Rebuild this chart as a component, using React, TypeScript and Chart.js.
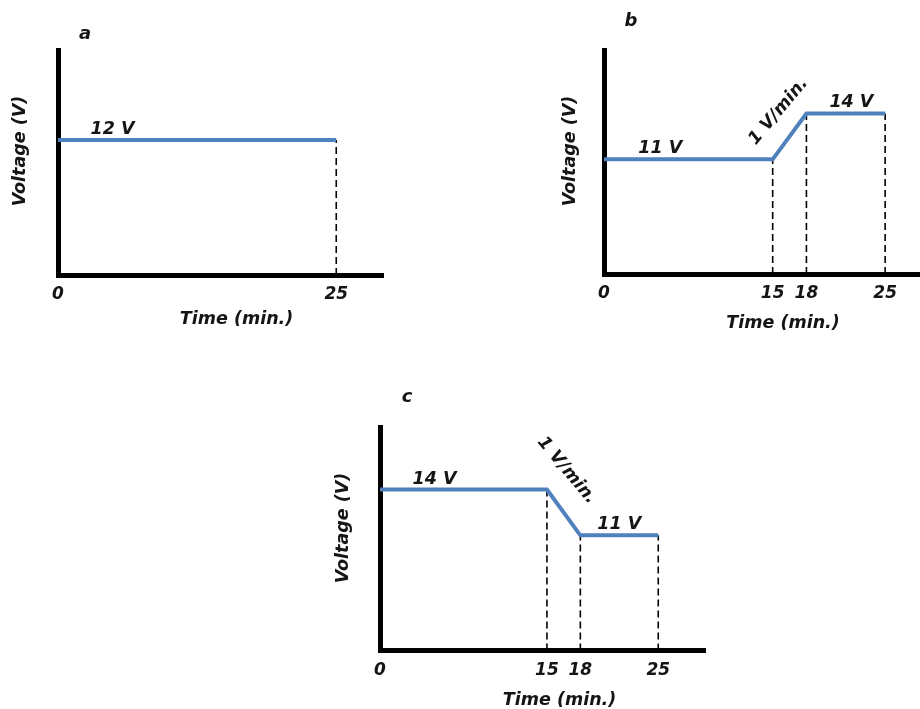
import React, { useEffect, useRef } from "react";
import { Chart, registerables } from "chart.js";

Chart.register(...registerables);

const FONT = "'DejaVu Sans', 'Open Sans', sans-serif";
const LINE_BLUE = "#4F81BD";
const TEXT = "#151515";

// ---- Panel a : constant voltage ----
const timeA = [0, 25];
const voltA = [12, 12];
const ticksA = [0, 25];

// ---- Panel b : step up with ramp ----
const timeB = [0, 15, 18, 25];
const voltB = [11, 11, 14, 14];
const ticksB = [0, 15, 18, 25];

// ---- Panel c : step down with ramp ----
const timeC = [0, 15, 18, 25];
const voltC = [14, 14, 11, 11];
const ticksC = [0, 15, 18, 25];

// plateau label positions (minutes along the time axis)
const labelTimesA = [4.9];
const labelTimesB = [5.0, 22.0];
const labelTimesC = [4.9, 21.5];

const xTitle = "Time (min.)";
const yTitle = "Voltage (V)";

type PanelCfg = {
  letter: string;
  time: number[];
  volt: number[];
  ticks: number[];
  labelTimes: number[];
  box: { left: number; top: number; width: number; height: number };
  padding: { left: number; right: number; top: number; bottom: number };
  xMax: number;
  yMin: number;
  yMax: number;
  letterOff: [number, number];
  xTitleOff: [number, number];
  yTitleOff: [number, number];
  rampOff: [number, number];
  rampRot: number;
};

const panels: PanelCfg[] = [
  {
    letter: "a",
    time: timeA,
    volt: voltA,
    ticks: ticksA,
    labelTimes: labelTimesA,
    box: { left: 0, top: 0, width: 400, height: 340 },
    padding: { left: 58, right: 17, top: 50, bottom: 25.6 },
    xMax: 29.2,
    yMin: 3,
    yMax: 18,
    letterOff: [27, -16],
    xTitleOff: [16, 49],
    yTitleOff: [-37.5, 101],
    rampOff: [0, 0],
    rampRot: 0,
  },
  {
    letter: "b",
    time: timeB,
    volt: voltB,
    ticks: ticksB,
    labelTimes: labelTimesB,
    box: { left: 540, top: 0, width: 380, height: 340 },
    padding: { left: 64, right: 0, top: 50, bottom: 26.6 },
    xMax: 28.1,
    yMin: 3.5,
    yMax: 18.15,
    letterOff: [27, -29],
    xTitleOff: [21, 53.5],
    yTitleOff: [-34, 101],
    rampOff: [-11, -25],
    rampRot: -50,
  },
  {
    letter: "c",
    time: timeC,
    volt: voltC,
    ticks: ticksC,
    labelTimes: labelTimesC,
    box: { left: 320, top: 380, width: 400, height: 329 },
    padding: { left: 60, right: 15, top: 47, bottom: 19.1 },
    xMax: 29.2,
    yMin: 3.45,
    yMax: 18.1,
    letterOff: [27, -29.5],
    xTitleOff: [17, 54.5],
    yTitleOff: [-36.5, 101],
    rampOff: [3, -42],
    rampRot: 50,
  },
];

function makeAnnotPlugin(cfg: PanelCfg) {
  return {
    id: "annot_" + cfg.letter,
    afterDatasetsDraw(chart: any) {
      const { ctx, chartArea } = chart;
      const x = chart.scales.x;
      const y = chart.scales.y;
      ctx.save();
      ctx.fillStyle = TEXT;
      ctx.textAlign = "center";

      // panel letter
      ctx.font = `italic bold 18px ${FONT}`;
      ctx.textBaseline = "middle";
      ctx.fillText(cfg.letter, chartArea.left + cfg.letterOff[0], chartArea.top + cfg.letterOff[1]);

      // x-axis title
      ctx.font = `italic bold 17.5px ${FONT}`;
      ctx.textBaseline = "alphabetic";
      ctx.fillText(
        xTitle,
        (chartArea.left + chartArea.right) / 2 + cfg.xTitleOff[0],
        chartArea.bottom + cfg.xTitleOff[1]
      );

      // y-axis title
      ctx.save();
      ctx.translate(chartArea.left + cfg.yTitleOff[0], chartArea.top + cfg.yTitleOff[1]);
      ctx.rotate(-Math.PI / 2);
      ctx.textBaseline = "middle";
      ctx.fillText(yTitle, 0, 0);
      ctx.restore();

      // plateau and ramp labels
      let li = 0;
      for (let i = 0; i < cfg.time.length - 1; i++) {
        const v0 = cfg.volt[i];
        const v1 = cfg.volt[i + 1];
        if (v0 === v1) {
          ctx.font = `italic bold 17.5px ${FONT}`;
          ctx.textBaseline = "alphabetic";
          const lx = x.getPixelForValue(cfg.labelTimes[li++]);
          ctx.fillText(`${v0} V`, lx, y.getPixelForValue(v0) - 6);
        } else {
          const slope = (v1 - v0) / (cfg.time[i + 1] - cfg.time[i]);
          const mx = (x.getPixelForValue(cfg.time[i]) + x.getPixelForValue(cfg.time[i + 1])) / 2;
          const my = (y.getPixelForValue(v0) + y.getPixelForValue(v1)) / 2;
          ctx.save();
          ctx.translate(mx + cfg.rampOff[0], my + cfg.rampOff[1]);
          ctx.rotate((cfg.rampRot * Math.PI) / 180);
          ctx.font = `italic bold 17.5px ${FONT}`;
          ctx.textBaseline = "middle";
          ctx.fillText(`${Math.abs(slope)} V/min.`, 0, 0);
          ctx.restore();
        }
      }
      ctx.restore();
    },
  };
}

function Panel({ cfg }: { cfg: PanelCfg }) {
  const ref = useRef<HTMLCanvasElement | null>(null);

  useEffect(() => {
    if (!ref.current) return;
    const main = cfg.time.map((t, i) => ({ x: t, y: cfg.volt[i] }));
    const drops = cfg.time
      .map((t, i) => ({ t, v: cfg.volt[i] }))
      .filter((p) => p.t > 0)
      .map((p) => ({
        data: [
          { x: p.t, y: cfg.yMin },
          { x: p.t, y: p.v },
        ],
        borderColor: "#000",
        borderWidth: 1.6,
        borderDash: [7, 4],
        pointRadius: 0,
        fill: false,
      }));

    const chart = new Chart(ref.current, {
      type: "line",
      data: {
        datasets: [
          {
            data: main,
            borderColor: LINE_BLUE,
            borderWidth: 4,
            pointRadius: 0,
            fill: false,
            tension: 0,
            borderCapStyle: "butt",
          } as any,
          ...(drops as any[]),
        ],
      },
      options: {
        responsive: false,
        animation: false,
        events: [],
        layout: { padding: cfg.padding },
        plugins: {
          legend: { display: false },
          tooltip: { enabled: false },
          title: { display: false },
        },
        scales: {
          x: {
            type: "linear",
            min: 0,
            max: cfg.xMax,
            grid: { display: false, drawTicks: false },
            border: { display: true, color: "#000", width: 5 },
            afterBuildTicks: (s: any) => {
              s.ticks = cfg.ticks.map((v) => ({ value: v }));
            },
            ticks: {
              color: TEXT,
              padding: 9.5,
              maxRotation: 0,
              autoSkip: false,
              font: { family: FONT, size: 17, style: "italic", weight: "bold", lineHeight: 1.2 },
              callback: (v: any) => String(v),
            },
          },
          y: {
            type: "linear",
            min: cfg.yMin,
            max: cfg.yMax,
            grid: { display: false, drawTicks: false },
            border: { display: true, color: "#000", width: 5 },
            ticks: { display: false },
          },
        },
      } as any,
      plugins: [makeAnnotPlugin(cfg)],
    });
    return () => chart.destroy();
  }, [cfg]);

  return (
    <canvas
      ref={ref}
      width={cfg.box.width}
      height={cfg.box.height}
      style={{
        position: "absolute",
        left: cfg.box.left,
        top: cfg.box.top,
        width: cfg.box.width,
        height: cfg.box.height,
      }}
    />
  );
}

export default function App() {
  return (
    <div
      style={{
        position: "absolute",
        left: 0,
        top: 0,
        width: 920,
        height: 709,
        background: "#fff",
        overflow: "hidden",
      }}
    >
      {panels.map((p) => (
        <Panel key={p.letter} cfg={p} />
      ))}
    </div>
  );
}
